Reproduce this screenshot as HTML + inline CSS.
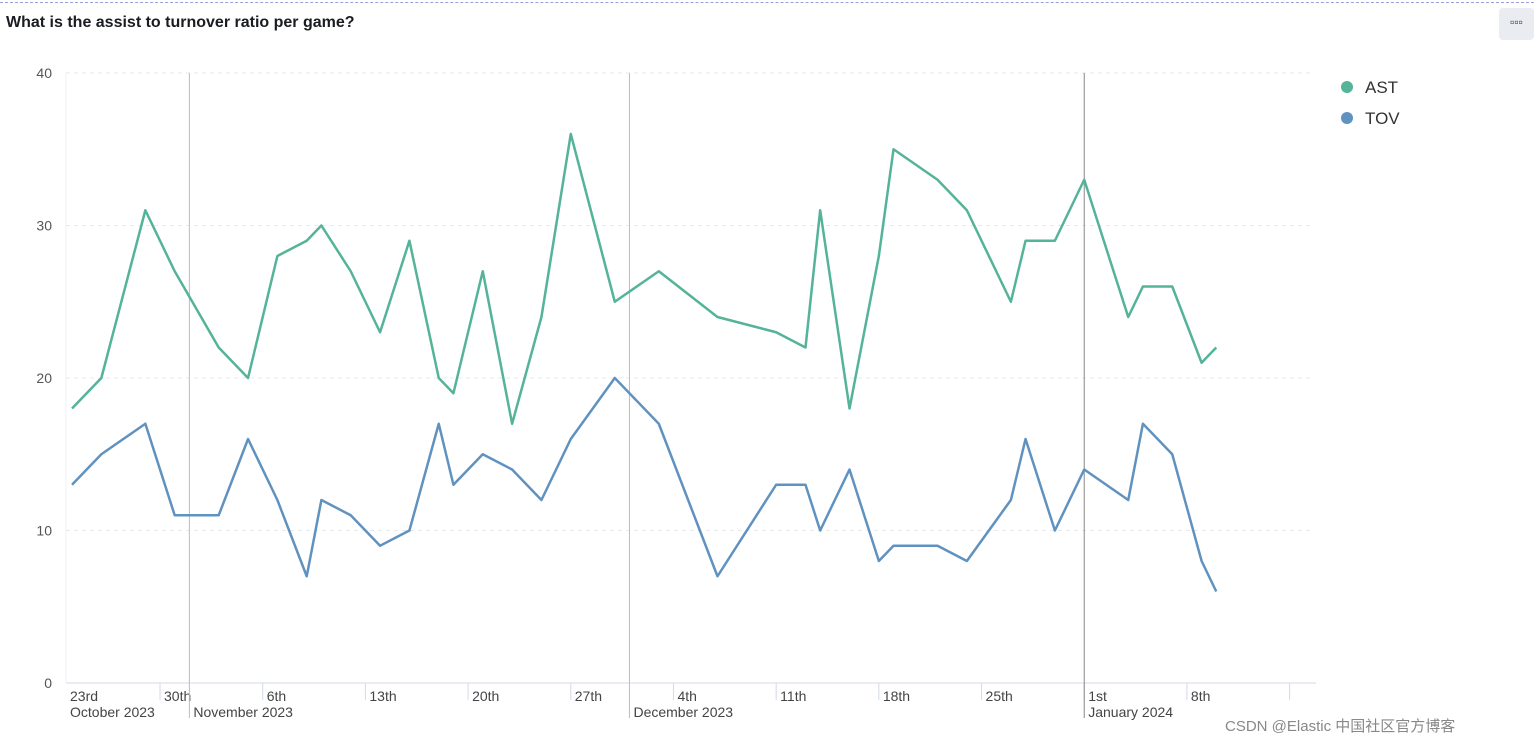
<!DOCTYPE html>
<html><head><meta charset="utf-8"><style>
body{margin:0;width:1534px;height:744px;background:#fff;overflow:hidden;font-family:"Liberation Sans","Noto Sans CJK SC",sans-serif;position:relative}
#title{position:absolute;left:6px;top:14px;font-size:16px;font-weight:bold;color:#1a1c21}
#menu{position:absolute;left:1499px;top:8px;width:35px;height:32px;background:#e9ecf0;border-radius:4px;font-size:12px;text-align:center;line-height:28px;color:#333}
#topline{position:absolute;left:0;top:2px;width:1534px;border-top:1px dashed #9aa0d8}
#wm{position:absolute;left:1225px;top:715px;font-size:15px;color:#888}
</style></head><body>
<div id="topline"></div>
<div id="title">What is the assist to turnover ratio per game?</div>
<div id="menu">▫▫▫</div>
<svg id="chart" width="1534" height="744" style="position:absolute;left:0;top:0"></svg>
<div id="wm">CSDN @Elastic 中国社区官方博客</div>
<script>
const days=[0,2,5,7,10,12,14,16,17,19,21,23,25,26,28,30,32,34,37,40,44,48,50,51,53,55,56,59,61,64,65,67,69,72,73,75,77,78];
const ast=[18,20,31,27,22,20,28,29,30,27,23,29,20,19,27,17,24,36,25,27,24,23,22,31,18,28,35,33,31,25,29,29,33,24,26,26,21,22];
const tov=[13,15,17,11,11,16,12,7,12,11,9,10,17,13,15,14,12,16,20,17,7,13,13,10,14,8,9,9,8,12,16,10,14,12,17,15,8,6];
const yTicks=[0,10,20,30,40];
const weekLabels=["23rd","30th","6th","13th","20th","27th","4th","11th","18th","25th","1st","8th"];
const monthLabels=[["October 2023",-1],["November 2023",8],["December 2023",38],["January 2024",69]];
const svg=document.getElementById('chart');
const NS='http://www.w3.org/2000/svg';
const x=d=>72+d*14.67, y=v=>683-v*15.25;
function mk(t,a,p){const e=document.createElementNS(NS,t);for(const k in a)e.setAttribute(k,a[k]);(p||svg).appendChild(e);return e;}
yTicks.forEach(v=>{
 if(v>0){const g=mk('line',{x1:66,x2:1310,y1:y(v),y2:y(v),stroke:'#e6e9ee','stroke-dasharray':'4,4'});
 
 }
 const t=mk('text',{x:52,y:y(v)+5,'text-anchor':'end','font-size':14,fill:'#555'});t.textContent=v;
 
 
});
mk('line',{x1:66,x2:1316,y1:683,y2:683,stroke:'#d3dae6'});
mk('line',{x1:66,x2:66,y1:73,y2:683,stroke:'#eef0f3'});
weekLabels.forEach((l,i)=>{
 const d=-1+7*i, px=x(d);
 if(i>0)mk('line',{x1:px,x2:px,y1:683,y2:700,stroke:'#d3dae6'});
 const t=mk('text',{x:Math.max(px,66)+4,y:701,'font-size':14,fill:'#444'});t.textContent=l;
 
 
});
mk('line',{x1:x(83),x2:x(83),y1:683,y2:700,stroke:'#d3dae6'});
monthLabels.forEach(([l,d],i)=>{
 const px=i==0?66:x(d);
 if(i>0){const v=mk('line',{x1:px,x2:px,y1:73,y2:718,stroke:i==3?'#888':'#bbb'});
 
 }
 const t=mk('text',{x:px+4,y:717,'font-size':14,fill:'#444'});t.textContent=l;
 
 
});
[[ast,'#54b399','ast-line'],[tov,'#6092c0','tov-line']].forEach(([s,c,n])=>{
 const p=mk('polyline',{points:days.map((d,i)=>x(d)+','+y(s[i])).join(' '),fill:'none',stroke:c,'stroke-width':2.5,'stroke-linejoin':'round'});
 
 
});
[['AST','#54b399',87],['TOV','#6092c0',118]].forEach(([l,c,yy])=>{
 const g=mk('g',{});
 
 
 mk('circle',{cx:1347,cy:yy,r:6,fill:c},g);
 const t=mk('text',{x:1365,y:yy+6,'font-size':17,fill:'#333'},g);t.textContent=l;
});
</script>
</body></html>
